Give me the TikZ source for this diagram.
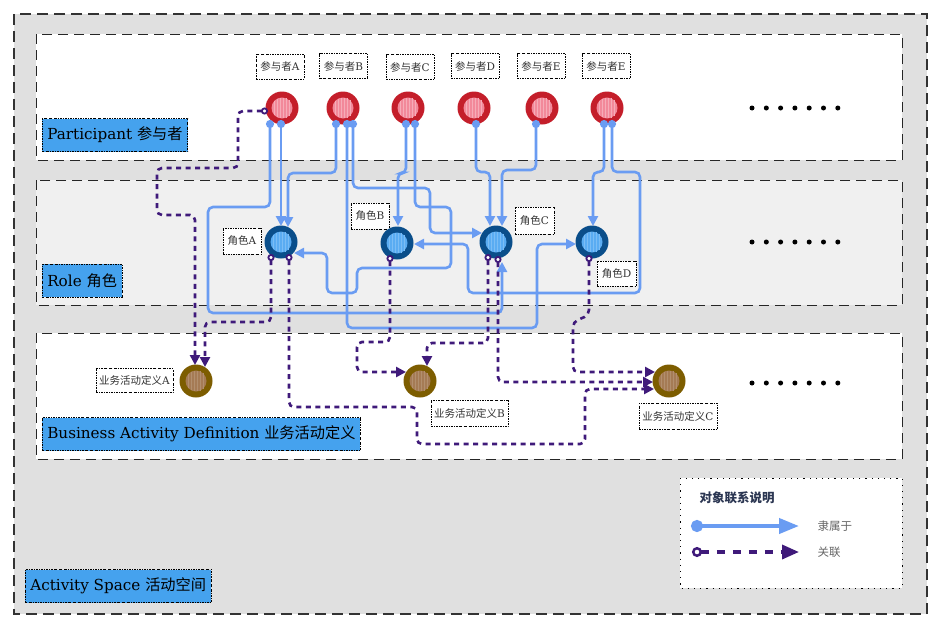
\documentclass[tikz,border=0pt]{standalone}
\usepackage{fontspec}
\setmainfont{DejaVu Serif}
\newfontfamily\cjk{Noto Sans CJK SC}
\usetikzlibrary{arrows.meta}
\definecolor{lblue}{HTML}{6A9CF2}
\definecolor{purp}{HTML}{3F1A7A}
\definecolor{pred}{HTML}{C41E2A}
\definecolor{ppink}{HTML}{F2899A}
\definecolor{rdark}{HTML}{0A4E8A}
\definecolor{rlight}{HTML}{5AACF2}
\definecolor{bring}{HTML}{7D5D00}
\definecolor{binner}{HTML}{A57B55}
\definecolor{tagblue}{HTML}{45A2EE}
\definecolor{outergray}{HTML}{E0E0E0}
\definecolor{rolegray}{HTML}{F0F0F0}
\definecolor{legtitle}{HTML}{2B3652}
\begin{document}
\begin{tikzpicture}[x=1pt,y=-1pt,
  lane/.style={draw=black!85, line width=0.9pt, dash pattern=on 10pt off 6pt},
  tagbox/.style={draw=black, line width=0.6pt, dash pattern=on 2pt off 1.2pt on 0.5pt off 1.2pt,
    fill=tagblue, anchor=west, inner xsep=5pt, minimum height=33pt, font=\fontsize{15.2}{17}\selectfont},
  smalltag/.style={draw=black, line width=0.7pt, dash pattern=on 2pt off 1.2pt on 0.5pt off 1.2pt,
    fill=white, inner sep=0pt, font=\fontsize{10.5}{12}\selectfont, text=black!80},
  ballnode/.style n args={3}{circle, minimum size=33pt, inner sep=0pt, fill=#1,
    path picture={\fill[#2] (path picture bounding box.center) circle (10.5pt);
      \foreach \i in {-8,-5,...,8}{\draw[#3, line width=0.6pt] ([xshift=\i pt]path picture bounding box.center) ++(0,{-sqrt(110-(\i)*(\i))}) -- ++(0,{2*sqrt(110-(\i)*(\i))});}}},
  partball/.style={ballnode={pred}{ppink}{white!30!ppink}},
  roleball/.style={ballnode={rdark}{rlight}{white!20!rlight}},
  bizball/.style={ballnode={bring}{binner}{white!15!binner}},
  belong/.style={draw=lblue, line width=2.6pt, rounded corners=5pt,
    {Circle[length=8pt]}-{Triangle[length=10pt,width=10pt]}},
  assoc/.style={draw=purp, line width=2.6pt, rounded corners=5pt, dash pattern=on 5pt off 4.5pt,
    {Circle[open,length=7pt,fill=white,line width=1.8pt]}-{Triangle[length=10pt,width=10pt]}},
  legtext/.style={anchor=west, text=black!60, font=\cjk\fontsize{11.5}{13}\selectfont}
]
\useasboundingbox (0,0) rectangle (941,629);
\fill[white] (0,0) rectangle (941,629);

% containers
\draw[draw=black!80, line width=1.1pt, dash pattern=on 11pt off 6pt, fill=outergray] (14,14) rectangle (927,614);
\draw[lane, fill=white] (36,34) rectangle (902,160);
\draw[lane, fill=rolegray] (36,180) rectangle (902,305);
\draw[lane, fill=white] (36,333) rectangle (902,459);
\draw[fill=white, line width=1pt, dash pattern=on 1.2pt off 5pt] (680,478) rectangle (902,588);

% lane tags
\node[tagbox] (tagP) at (42,135) {Participant {\cjk 参与者}};
\node[tagbox] (tagR) at (42,280.5) {Role {\cjk 角色}};
\node[tagbox] (tagB) at (42,434) {Business Activity Definition {\cjk 业务活动定义}};
\node[tagbox] (tagS) at (25,586) {Activity Space {\cjk 活动空间}};

% participant labels
\node[smalltag, minimum width=48pt, minimum height=25pt] (lpA) at (280,66.5) {{\cjk 参与者}A};
\node[smalltag, minimum width=48pt, minimum height=25pt] (lpB) at (343.5,66) {{\cjk 参与者}B};
\node[smalltag, minimum width=48pt, minimum height=25pt] (lpC) at (410,67) {{\cjk 参与者}C};
\node[smalltag, minimum width=48pt, minimum height=25pt] (lpD) at (475,66) {{\cjk 参与者}D};
\node[smalltag, minimum width=48pt, minimum height=25pt] (lpE) at (541,66) {{\cjk 参与者}E};
\node[smalltag, minimum width=48pt, minimum height=25pt] (lpF) at (606,66) {{\cjk 参与者}E};

% role labels
\node[smalltag, minimum width=38pt, minimum height=26pt] (lrA) at (242,241) {{\cjk 角色}A};
\node[smalltag, minimum width=38pt, minimum height=26pt] (lrB) at (370,216) {{\cjk 角色}B};
\node[smalltag, minimum width=39pt, minimum height=27pt] (lrC) at (534.5,220.5) {{\cjk 角色}C};
\node[smalltag, minimum width=39pt, minimum height=25pt] (lrD) at (616.5,273.5) {{\cjk 角色}D};

% business labels
\node[smalltag, minimum width=77pt, minimum height=24pt] (lbA) at (134.5,380.5) {{\cjk 业务活动定义}A};
\node[smalltag, minimum width=77pt, minimum height=26pt] (lbB) at (469.5,413) {{\cjk 业务活动定义}B};
\node[smalltag, minimum width=78pt, minimum height=26pt] (lbC) at (678,416) {{\cjk 业务活动定义}C};

% participants
\node[partball] (pA) at (282,108) {};
\node[partball] (pB) at (343,108) {};
\node[partball] (pC) at (408,108) {};
\node[partball] (pD) at (474,108) {};
\node[partball] (pE) at (542,108) {};
\node[partball] (pF) at (607,108) {};

% roles
\node[roleball] (rA) at (281,242) {};
\node[roleball] (rB) at (397,243) {};
\node[roleball] (rC) at (496,242) {};
\node[roleball] (rD) at (592,242) {};

% business activity definitions
\node[bizball] (bA) at (196,381) {};
\node[bizball] (bB) at (420,381) {};
\node[bizball] (bC) at (669,381) {};

% ellipses
\foreach \yy in {108,242,383}{
  \foreach \k in {0,...,6}{\fill[black] ({752+14.3*\k},\yy) circle (2.5pt);}
}

% belongs-to connectors
\draw[belong] ([shift={(-12,12)}]pA.center) -- (270,207) -- (208,207) -- (208,313) -- (502,313) -- ([shift={(6,20)}]rC.center);
\draw[belong] ([shift={(-1,12)}]pA.center) -- ([shift={(0,-16)}]rA.center);
\draw[belong] ([shift={(-7,12)}]pB.center) -- (336,173) -- (288,173) -- ([shift={(7,-15)}]rA.center);
\draw[belong] ([shift={(4,12)}]pB.center) -- (347,328) -- (537,328) -- (537,244) -- ([shift={(-16,2)}]rD.center);
\draw[belong] ([shift={(10,12)}]pB.center) -- (353,188) -- (430,188) -- (430,233) -- ([shift={(-14,-9)}]rC.center);
\draw[belong] ([shift={(-2,12)}]pC.center) -- (406,173) -- (398,173) -- ([shift={(1,-17)}]rB.center);
\draw[belong] ([shift={(7,12)}]pC.center) -- (415,207) -- (451,207) -- (451,268) -- (357,268) -- (357,293) -- (327,293) -- (327,253) -- ([shift={(13,11)}]rA.center);
\draw[belong] ([shift={(2,12)}]pD.center) -- (476,172) -- (490,172) -- ([shift={(-6,-16)}]rC.center);
\draw[belong] ([shift={(-6,12)}]pE.center) -- (536,170) -- (502,170) -- ([shift={(6,-16)}]rC.center);
\draw[belong] ([shift={(-3,12)}]pF.center) -- (604,172) -- (593,172) -- ([shift={(1,-16)}]rD.center);
\draw[belong] ([shift={(5,12)}]pF.center) -- (612,172) -- (640,172) -- (640,293) -- (468,293) -- (468,244) -- ([shift={(17,1)}]rB.center);

% association connectors
\draw[assoc] ([shift={(-14,3)}]pA.center) -- (238,111) -- (238,168) -- (157,168) -- (157,215) -- (195,215) -- ([shift={(-1,-16)}]bA.center);
\draw[assoc] ([shift={(-10,12)}]rA.center) -- (271,322) -- (205,322) -- ([shift={(9,-14)}]bA.center);
\draw[assoc] ([shift={(8,12)}]rA.center) -- (289,407) -- (417,407) -- (417,444) -- (585,444) -- (585,389) -- ([shift={(-15,8)}]bC.center);
\draw[assoc] ([shift={(-7,12)}]rB.center) -- (390,342) -- (357,342) -- (357,372) -- ([shift={(-14,-9)}]bB.center);
\draw[assoc] ([shift={(-8,12)}]rC.center) -- (488,343) -- (427,343) -- ([shift={(7,-15)}]bB.center);
\draw[assoc] ([shift={(2,14)}]rC.center) -- (498,382) -- ([shift={(-16,1)}]bC.center);
\draw[assoc] ([shift={(-3,13)}]rD.center) -- (589,315) -- (573,322) -- (573,372) -- ([shift={(-14,-9)}]bC.center);

% legend
\node[anchor=west, text=legtitle, font=\cjk\bfseries\fontsize{12.5}{14}\selectfont] (legT) at (696,498) {对象联系说明};
\coordinate (l1s) at (691,526);
\coordinate (l1e) at (799,526);
\coordinate (l2s) at (692,552);
\coordinate (l2e) at (799,552);
\draw[belong, line width=4pt, {Circle[length=12pt]}-{Triangle[length=20pt,width=15pt]}] (l1s) -- (l1e);
\draw[assoc, line width=3.5pt, dash pattern=on 8pt off 8pt, {Circle[open,length=10pt,fill=white,line width=2.5pt]}-{Triangle[length=17pt,width=14pt]}] (l2s) -- (l2e);
\node[legtext] (legA) at (814,526) {隶属于};
\node[legtext] (legB) at (814,552) {关联};
\end{tikzpicture}
\end{document}
